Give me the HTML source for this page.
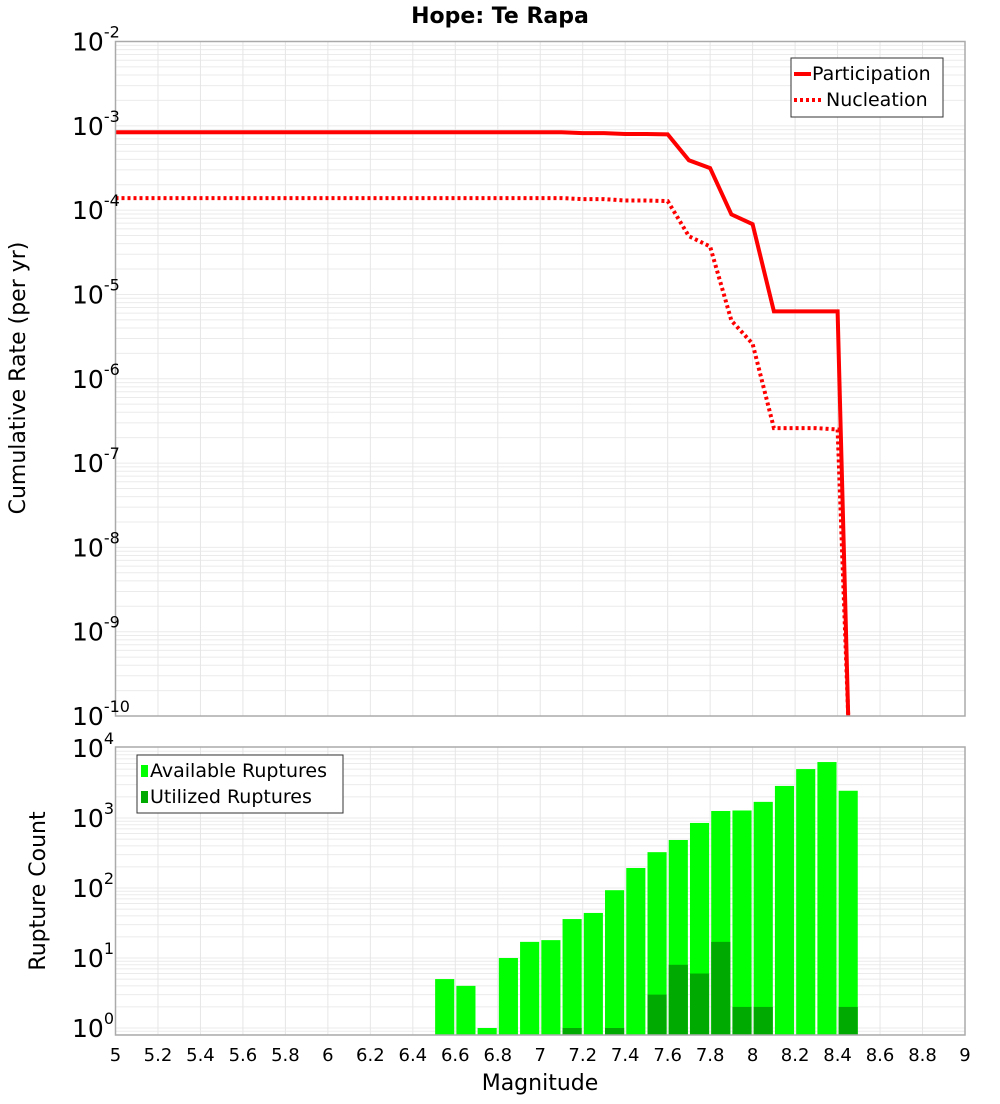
<!DOCTYPE html>
<html><head><meta charset="utf-8"><style>
body{margin:0;background:#fff;font-family:"DejaVu Sans","Liberation Sans",sans-serif}
svg text{font-family:"DejaVu Sans","Liberation Sans",sans-serif}
</style></head><body>
<svg id="chart" width="1000" height="1100" xmlns="http://www.w3.org/2000/svg">
<text x="500" y="23" text-anchor="middle" font-size="22" font-weight="bold">Hope: Te Rapa</text>
<g id="topg"></g>
<g id="botg"></g>
<text transform="translate(25,378) rotate(-90)" text-anchor="middle" font-size="22">Cumulative Rate (per yr)</text>
<text transform="translate(45,891) rotate(-90)" text-anchor="middle" font-size="22">Rupture Count</text>
<text x="540" y="1090" text-anchor="middle" font-size="22">Magnitude</text>
</svg>
<script>
const rateMags=[5.0,5.5,6.0,6.5,7.0,7.1,7.2,7.3,7.4,7.5,7.6,7.7,7.8,7.9,8.0,8.1,8.2,8.3,8.4,8.45];
const participation=[8.4e-4,8.4e-4,8.4e-4,8.4e-4,8.4e-4,8.4e-4,8.2e-4,8.2e-4,8.0e-4,8.0e-4,7.9e-4,3.9e-4,3.15e-4,8.9e-5,6.8e-5,6.3e-6,6.3e-6,6.3e-6,6.3e-6,1e-10];
const nucleation=[1.39e-4,1.39e-4,1.39e-4,1.39e-4,1.39e-4,1.39e-4,1.35e-4,1.35e-4,1.3e-4,1.3e-4,1.28e-4,4.9e-5,3.7e-5,4.9e-6,2.6e-6,2.6e-7,2.6e-7,2.6e-7,2.5e-7,1e-10];
const binMags=[6.55,6.65,6.75,6.85,6.95,7.05,7.15,7.25,7.35,7.45,7.55,7.65,7.75,7.85,7.95,8.05,8.15,8.25,8.35,8.45];
const available=[5,4,1,10,17,18,36,44,93,193,325,485,850,1260,1280,1700,2870,5000,6300,2450];
const utilized=[0,0,0,0,0,0,1,0,1,0,3,8,6,17,2,2,0,0,0,2];
const xTicks=[5,5.2,5.4,5.6,5.8,6,6.2,6.4,6.6,6.8,7,7.2,7.4,7.6,7.8,8,8.2,8.4,8.6,8.8,9];
const rateExp=[-2,-3,-4,-5,-6,-7,-8,-9,-10];
const countExp=[4,3,2,1,0];
const NS="http://www.w3.org/2000/svg";
const L=115.5,R=965;
const X=m=>L+(m-5)*(R-L)/4;
const T0=41.5,T1=716;
const Yr=v=>T0+(-2-Math.log10(v))*(T1-T0)/8;
const B0=747,B1=1035,Yc=v=>1028-Math.log10(v)*70;
function el(p,tag,a,txt){const e=document.createElementNS(NS,tag);for(const k in a)e.setAttribute(k,a[k]);if(txt!=null)e.textContent=txt;p.appendChild(e);return e;}
const gTop=document.getElementById('topg'),gBot=document.getElementById('botg');
const svg=document.getElementById('chart');
function grid(g,y0,y1,Y,eLo,eHi){
 for(let e=eLo;e<eHi;e++)for(let k=1;k<10;k++){const y=Y(k*Math.pow(10,e));if(y<y0||y>y1)continue;
  const l=el(g,'line',{x1:L,x2:R,y1:y,y2:y,stroke:'#ebebeb','stroke-width':1});
  
  }
 xTicks.forEach(t=>{const l=el(g,'line',{x1:X(t),x2:X(t),y1:y0,y2:y1,stroke:'#e6e6e6','stroke-width':1});
  
  });
}
grid(gTop,T0,T1,Yr,-10,-2);
grid(gBot,B0,B1,Yc,-1,4);
binMags.forEach((m,i)=>{
 const w=(R-L)/4*0.09;
 if(available[i]>0){const y=Yc(available[i]);const r=el(gBot,'rect',{x:X(m)-w/2,y:y,width:w,height:B1-y,fill:'#00ff00'});
  
  }
 if(utilized[i]>0){const y=Yc(utilized[i]);const r=el(gBot,'rect',{x:X(m)-w/2,y:y,width:w,height:B1-y,fill:'#00aa00'});
  
  }
});
const cp=el(gTop,'clipPath',{id:'cp'});el(cp,'rect',{x:L,y:T0,width:R-L,height:T1-T0+3});
function drawLine(vals,dash,name){const d=rateMags.map((m,i)=>(i?'L':'M')+X(m).toFixed(1)+','+Yr(vals[i]).toFixed(1)).join('');
 const p=el(gTop,'path',{d:d,fill:'none',stroke:'#ff0000','stroke-width':4,'clip-path':'url(#cp)'});
 if(dash)p.setAttribute('stroke-dasharray','3,3');
 
 }
drawLine(participation,false,'participation-line');
drawLine(nucleation,true,'nucleation-line');
[[T0,T1],[B0,B1]].forEach(([a,b])=>{const r=el(svg,'rect',{x:L,y:a,width:R-L,height:b-a,fill:'none',stroke:'#aaa','stroke-width':1.5});
 
 });
rateExp.forEach(e=>{const y=Yr(Math.pow(10,e));const t=el(svg,'text',{x:72,y:y+9,'font-size':25});
 
 
 t.textContent='10';el(t,'tspan',{dy:-13,'font-size':16},String(e));});
countExp.forEach(e=>{const y=Yc(Math.pow(10,e));const t=el(svg,'text',{x:72,y:y+9,'font-size':25});
 
 
 t.textContent='10';el(t,'tspan',{dy:-13,'font-size':16},String(e));});
xTicks.forEach(v=>{const t=el(svg,'text',{x:X(v),y:1061,'text-anchor':'middle','font-size':18},String(Math.round(v*10)/10));
 
 });
function legend(x,y,w,h,items,name){const g=el(svg,'g',{});
 
 
 el(g,'rect',{x:x,y:y,width:w,height:h,fill:'#fff',stroke:'#333','stroke-width':1});
 items.forEach((it,i)=>{const cy=y+16+i*26;it.draw(g,x,cy);
  const t=el(g,'text',{x:x+it.tx,y:cy+6,'font-size':19},it.label);
  
  });}
legend(791,58,152,59,[
 {label:'Participation',tx:21,draw:(g,x,cy)=>el(g,'line',{x1:x+3,x2:x+20,y1:cy,y2:cy,stroke:'#f00','stroke-width':4})},
 {label:'Nucleation',tx:35,draw:(g,x,cy)=>el(g,'line',{x1:x+3,x2:x+30,y1:cy,y2:cy,stroke:'#f00','stroke-width':4,'stroke-dasharray':'3,3'})}],'rate-legend');
legend(137,755,206,58,[
 {label:'Available Ruptures',tx:13,draw:(g,x,cy)=>el(g,'rect',{x:x+4,y:cy-6,width:7,height:12,fill:'#00ff00'})},
 {label:'Utilized Ruptures',tx:13,draw:(g,x,cy)=>el(g,'rect',{x:x+4,y:cy-6,width:7,height:12,fill:'#00aa00'})}],'count-legend');
</script>
</body></html>
